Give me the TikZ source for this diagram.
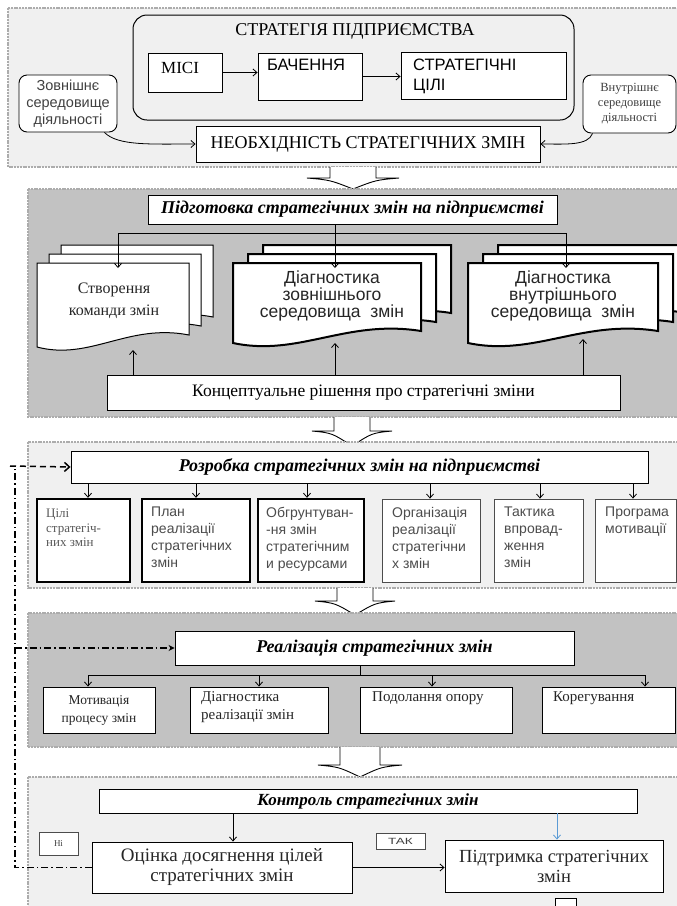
\documentclass[tikz,border=0pt]{standalone}
\usepackage{fontspec}
\setmainfont{Liberation Serif}
\setsansfont{Liberation Sans}
\usetikzlibrary{arrows.meta,fit,calc}
\tikzset{
  lightpanel/.style={draw=gray!65, line width=1.3pt, dash pattern=on 2pt off 0.8pt, fill=gray!12},
  darkpanel/.style={draw=gray!65, line width=1.3pt, dash pattern=on 2pt off 0.8pt, fill=gray!48},
  bx/.style={draw, fill=white, line width=0.9pt, inner sep=0pt},
  thickbx/.style={draw, fill=white, line width=2.4pt, inner sep=0pt},
  thinbx/.style={draw=black!70, fill=white, line width=0.8pt, inner sep=0pt},
  arr/.style={-{Straight Barb[length=4pt,width=7pt]}, line width=0.8pt},
  docthin/.style={draw, fill=white, line width=1pt},
  docbold/.style={draw, fill=white, line width=2pt},
  dashdot/.style={line width=1.6pt, dash pattern=on 7pt off 3pt on 1.5pt off 3pt},
  hol/.style={draw, fill=white, line width=0.9pt},
  ttl/.style={font=\fontsize{18}{20}\selectfont\bfseries\itshape},
  smalls/.style={font=\fontsize{14}{17}\selectfont\sffamily, text=black!70, align=left, anchor=north west, inner sep=0pt},
  serl/.style={font=\fontsize{15}{18}\selectfont, align=left, text=black!85, anchor=north west, inner sep=0pt},
}
\newcommand\docshape[5]{% style, x1, y1, x2, yb
  \path[#1] (#2,#3) -- (#4,#3) -- (#4,{#5-12})
    .. controls ({#2+0.6*(#4-#2)},{#5-24}) and ({#2+0.35*(#4-#2)},{#5+14}) .. (#2,#5) -- cycle;}
\newcommand\bigarrow[6]{% cx, top, base, tip, stem half, head half
  \path[hol] ({#1-#5},#2) -- ({#1-#5},#3) -- ({#1-#6},#3)
    .. controls ({#1-0.5*#6},{#3+2}) .. (#1,#4)
    .. controls ({#1+0.5*#6},{#3+2}) .. ({#1+#6},#3) -- ({#1+#5},#3) -- ({#1+#5},#2);}
\begin{document}
\begin{tikzpicture}[x=1pt,y=-1pt]
\useasboundingbox (0,0) rectangle (677,906);
\clip (0,0) rectangle (677,906);
\fill[white] (0,0) rectangle (677,906);

% ---------- panel 1
\path[lightpanel] (8,8) rectangle (690,167);
\draw[line width=1pt, rounded corners=14pt] (133,15) rectangle (574,120);
\node[font=\fontsize{18}{20}\selectfont] (tstrat) at (355,31) {СТРАТЕГІЯ ПІДПРИЄМСТВА};
\node[bx, fit={(148,53)(222,92)}] (misi) {};
\node[font=\fontsize{17}{19}\selectfont, anchor=north west, inner sep=0pt] (tmisi) at (161,62) {МІСІ};
\node[bx, fit={(258,53)(362,100)}] (bach) {};
\node[font=\fontsize{16.5}{19}\selectfont\sffamily, anchor=north west, inner sep=0pt] (tbach) at (267,59) {БАЧЕННЯ};
\node[bx, fit={(401,52)(566,99)}] (cili) {};
\node[font=\fontsize{16.5}{20}\selectfont\sffamily, anchor=north west, inner sep=0pt, align=left] (tcili) at (413,59) {СТРАТЕГІЧНІ\\ЦІЛІ};
\draw[arr] (misi.east) -- (misi.east -| bach.west);
\draw[arr] (bach.east) -- (bach.east -| cili.west);
\node[draw, fill=white, line width=0.9pt, rounded corners=8pt, fit={(19,75)(117,132)}, inner sep=0pt] (ext) {};
\node[font=\fontsize{14.5}{17}\selectfont\sffamily, align=center, text=black!75] (text) at (ext.center) {Зовнішнє\\середовище\\діяльності};
\node[draw, fill=white, line width=0.9pt, rounded corners=8pt, fit={(583,75)(676,133)}, inner sep=0pt] (int) {};
\node[font=\fontsize{12.5}{15}\selectfont, align=center, text=black!75] (tint) at (int.center) {Внутрішнє\\середовище\\діяльності};
\node[bx, fit={(196,126)(540,162)}] (need) {};
\node[font=\fontsize{18}{20}\selectfont] (tneed) at (need.center) {НЕОБХІДНІСТЬ СТРАТЕГІЧНИХ ЗМІН};
\draw[arr] ([xshift=-13pt]ext.south east) .. controls (118,146) and (150,144) .. (need.west);
\draw[arr] ([xshift=10pt]int.south west) .. controls (588,146) and (565,144) .. (need.east);

\bigarrow{353}{167}{178}{189}{23}{46}

% ---------- panel 2
\path[darkpanel] (28,189) rectangle (690,417);
\node[bx, fit={(148,195)(557,224)}] (prep) {};
\node[ttl] (tprep) at (prep.center) {Підготовка стратегічних змін на підприємстві};
% doc stacks
\docshape{docthin}{61}{245}{213}{329}
\docshape{docthin}{49}{254}{201}{338}
\docshape{docthin}{37}{263}{189}{347}
\docshape{docbold}{263}{245}{451}{325}
\docshape{docbold}{248}{254}{436}{334}
\docshape{docbold}{233}{263}{421}{343}
\docshape{docbold}{498}{245}{688}{325}
\docshape{docbold}{483}{254}{673}{334}
\docshape{docbold}{468}{263}{658}{343}
\node[font=\fontsize{16}{22}\selectfont, align=center, text=black!85] (td1) at (114,301) {Створення\\команди змін};
\node[font=\fontsize{17.5}{17}\selectfont\sffamily, align=center, text=black!85] (td2) at (332,296) {Діагностика\\зовнішнього\\середовища\ \ змін};
\node[font=\fontsize{17.5}{17}\selectfont\sffamily, align=center, text=black!85] (td3) at (563,296) {Діагностика\\внутрішнього\\середовища\ \ змін};
\coordinate (j) at (335,233);
\draw[line width=0.8pt] (118,233) -- (566,233);
\draw[arr] (prep.south -| j) -- (335,268);
\draw[arr] (118,233) -- (118,268);
\draw[arr] (566,233) -- (566,268);
\node[bx, fit={(107,375)(620,410)}] (concept) {};
\node[font=\fontsize{17.5}{19}\selectfont] (tconcept) at (concept.center) {Концептуальне рішення про стратегічні зміни};
\draw[arr] (concept.north -| 133,0) -- (133,350);
\draw[arr] (concept.north -| 335,0) -- (335,343);
\draw[arr] (concept.north -| 583,0) -- (583,339);

\bigarrow{352}{417}{431}{446}{18}{40}

% ---------- panel 3
\path[lightpanel] (28,442) rectangle (690,588);
\node[bx, fit={(71,451)(648,483)}] (dev) {};
\node[ttl] (tdev) at (dev.center) {Розробка стратегічних змін на підприємстві};
\node[thickbx, fit={(37,499)(130,582)}] (b1) {};
\node[thickbx, fit={(142,499)(250,582)}] (b2) {};
\node[thickbx, fit={(258,499)(364,582)}] (b3) {};
\node[thinbx, fit={(382,499)(480,582)}] (b4) {};
\node[thinbx, fit={(494,499)(583,582)}] (b5) {};
\node[thinbx, fit={(595,499)(676,582)}] (b6) {};
\foreach \b/\x in {b1/88,b2/196,b3/307,b4/430,b5/540,b6/633}
  \draw[arr] (dev.south -| \x,0) -- (\b.north -| \x,0);
\node[font=\fontsize{13}{14.5}\selectfont, text=black!65, align=left, anchor=north west, inner sep=0pt] (tb1) at (46,509) {Цілі\\стратегіч-\\них змін};
\node[smalls] (tb2) at (151,507) {План\\реалізації\\стратегічних\\змін};
\node[smalls] (tb3) at (266,507) {Обгрунтуван-\\-ня змін\\стратегічним\\и ресурсами};
\node[smalls] (tb4) at (392,507) {Організація\\реалізації\\стратегічни\\х змін};
\node[smalls] (tb5) at (504,507) {Тактика\\впровад-\\ження\\змін};
\node[smalls] (tb6) at (605,507) {Програма\\мотивації};

\bigarrow{355}{588}{601}{615}{18}{40}

% ---------- panel 4
\path[darkpanel] (28,613) rectangle (690,747);
\node[bx, fit={(175,631)(574,665)}] (real) {};
\node[ttl] (treal) at (real.center) {Реалізація стратегічних змін};
\node[bx, fit={(43,687)(155,733)}] (r1) {};
\node[bx, fit={(190,687)(328,733)}] (r2) {};
\node[bx, fit={(360,687)(512,733)}] (r3) {};
\node[bx, fit={(542,687)(675,733)}] (r4) {};
\draw[line width=0.8pt] (real.south -| 360,0) -- (360,675);
\draw[line width=0.8pt] (88,675) -- (645,675);
\foreach \b/\x in {r1/88,r2/259,r3/432,r4/645}
  \draw[arr] (\x,675) -- (\b.north -| \x,0);
\node[font=\fontsize{13.5}{18}\selectfont, align=center, text=black!85] (tr1) at (r1.center) {Мотивація\\процесу змін};
\node[serl] (tr2) at (201,691) {Діагностика\\реалізації змін};
\node[serl] (tr3) at (372,691) {Подолання опору};
\node[serl] (tr4) at (553,691) {Корегування};

\bigarrow{360}{747}{765}{777}{20}{42}

% ---------- panel 5
\path[lightpanel] (28,777) rectangle (690,930);
\node[bx, fit={(99,789)(637,813)}] (ctrl) {};
\node[font=\fontsize{17}{18}\selectfont\bfseries\itshape] (tctrl) at (ctrl.center) {Контроль стратегічних змін};
\node[thinbx, fit={(39,832)(78,855)}] (ni) {};
\node[font=\fontsize{9}{10}\selectfont, text=black!75] (tni) at (ni.center) {Ні};
\node[bx, fit={(92,842)(352,893)}] (assess) {};
\node[font=\fontsize{19}{20}\selectfont, align=center, text=black!85] (tassess) at (assess.center) {Оцінка досягнення цілей\\стратегічних змін};
\node[thinbx, fit={(376,833)(425,849)}] (tak) {};
\node[font=\fontsize{9}{9}\selectfont\sffamily, text=black!75] (ttak) at (tak.center) {\scalebox{1.5}[1]{ТАК}};
\node[bx, fit={(445,840)(663,892)}] (support) {};
\node[font=\fontsize{18.5}{20}\selectfont, align=center, text=black!85] (tsupport) at (support.center) {Підтримка стратегічних\\змін};
\node[bx, fit={(555,898)(576,915)}] (small) {};
\draw[arr] (ctrl.south -| 233,0) -- (assess.north -| 233,0);
\draw[arr, draw={rgb,255:red,91;green,155;blue,213}] (ctrl.south -| 557,0) -- (support.north -| 557,0);
\draw[arr] (assess.east) -- (support.west |- assess.east);

% ---------- feedback line
\draw[dashdot] (assess.west) -| (15,466);
\draw[line width=1.5pt, dash pattern=on 6pt off 4pt, -{Straight Barb[length=5pt,width=9pt]}] (10,466) -- (dev.west);
\draw[line width=1.3pt, dash pattern=on 7pt off 3pt on 1.5pt off 3pt, -{Stealth[length=6pt,width=6pt]}] (15,648) -- (real.west);
\end{tikzpicture}
\end{document}
